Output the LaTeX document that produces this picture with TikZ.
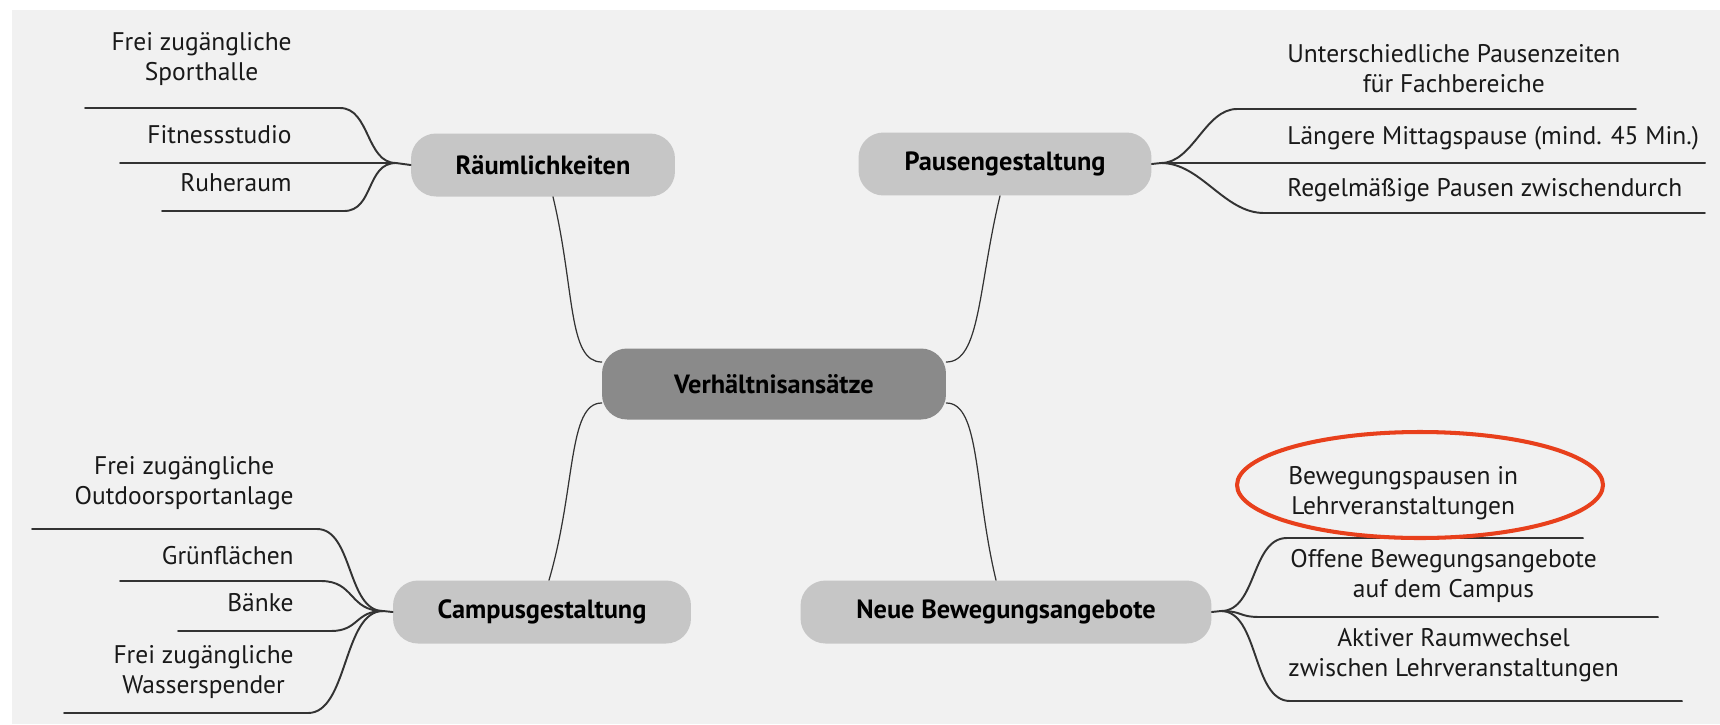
\documentclass[tikz,border=0pt]{standalone}
\usepackage{fontspec}
\setmainfont{PT Sans}
\usetikzlibrary{calc}

\definecolor{paper}{HTML}{F1F1F1}
\definecolor{topicgrey}{HTML}{C6C6C6}
\definecolor{coregrey}{HTML}{8A8A8A}
\definecolor{ringred}{HTML}{E8401C}
\def\leaffont{\fontsize{14.5}{17}\selectfont}

\begin{document}
\begin{tikzpicture}[x=0.02cm,y=-0.02cm,line cap=round]
    \tikzstyle{topic}=[rounded corners=0.5cm,fill=topicgrey,minimum height=1.26cm,font=\fontsize{15}{17}\selectfont\bfseries]
    \tikzstyle{core}=[topic,fill=coregrey,minimum height=1.42cm]
    \tikzstyle{leaf}=[align=center,inner sep=0pt,text=black!90,font=\leaffont]
    \tikzstyle{twig}=[draw=black!80,line width=1.1pt]
    \tikzstyle{link}=[draw=black!80,line width=0.7pt]

    \useasboundingbox (0,0) rectangle (1720,724);
    \fill[paper] (12,10) rectangle (1720,724);

    % main topics
    \node[core] (V) at (774,384) [minimum width=6.88cm] {Verhältnisansätze};
    \node[topic] (R) at (543,165) [minimum width=5.28cm] {Räumlichkeiten};
    \node[topic] (P) at (1005,164) [minimum width=5.86cm] {Pausengestaltung};
    \node[topic] (C) at (542,612) [minimum width=5.96cm] {Campusgestaltung};
    \node[topic] (N) at (1006,612) [minimum width=8.22cm] {Neue Bewegungsangebote};

    \draw[link] ($(V.west)+(0,-22)$) .. controls +(-34,0) and +(22,92) .. ($(R.south)+(10,0)$);
    \draw[link] ($(V.east)+(0,-22)$) .. controls +(34,0) and +(-22,92) .. ($(P.south)+(-5,0)$);
    \draw[link] ($(V.west)+(0,19)$) .. controls +(-34,0) and +(27,-92) .. ($(C.north)+(7,0)$);
    \draw[link] ($(V.east)+(0,19)$) .. controls +(34,0) and +(-22,-92) .. ($(N.north)+(-10,0)$);

    % Raeumlichkeiten
    \coordinate (rC) at (396,163);
    \coordinate (r1) at (85,108);  \coordinate (r1k) at (340,108);
    \coordinate (r2) at (120,163);
    \coordinate (r3) at (162,211); \coordinate (r3k) at (344,211);
    \draw[twig] (R.west) -- (rC);
    \draw[twig] (r1) -- (r1k) .. controls +(30,0) and +(-30,0) .. (rC);
    \draw[twig] (r2) -- (rC);
    \draw[twig] (r3) -- (r3k) .. controls +(30,0) and +(-30,0) .. (rC);
    \node[leaf,anchor=east] (rt1) at (292,59) {Frei zugängliche\\Sporthalle};
    \node[leaf,anchor=east] (rt2) at (292,135) {Fitnessstudio};
    \node[leaf,anchor=east] (rt3) at (292,183) {Ruheraum};

    % Pausengestaltung
    \coordinate (pC) at (1161,163);
    \coordinate (p1) at (1636,109); \coordinate (p1k) at (1237,109);
    \coordinate (p2) at (1705,163);
    \coordinate (p3) at (1705,213); \coordinate (p3k) at (1264,213);
    \draw[twig] (P.east) -- (pC);
    \draw[twig] (pC) .. controls +(32,0) and +(-32,0) .. (p1k) -- (p1);
    \draw[twig] (pC) -- (p2);
    \draw[twig] (pC) .. controls +(40,0) and +(-40,0) .. (p3k) -- (p3);
    \node[leaf,anchor=west] (pt1) at (1287,69) {Unterschiedliche Pausenzeiten\\für Fachbereiche};
    \node[leaf,anchor=west] (pt2) at (1287,138) {Längere Mittagspause (mind. 45 Min.)};
    \node[leaf,anchor=west] (pt3) at (1287,190) {Regelmäßige Pausen zwischendurch};

    % Campusgestaltung
    \coordinate (cC) at (383,611);
    \coordinate (c1) at (32,529);  \coordinate (c1k) at (317,529);
    \coordinate (c2) at (120,581); \coordinate (c2k) at (321,581);
    \coordinate (c3) at (178,631); \coordinate (c3k) at (331,631);
    \coordinate (c4) at (64,713);  \coordinate (c4k) at (308,713);
    \draw[twig] (C.west) -- (cC);
    \draw[twig] (c1) -- (c1k) .. controls +(36,0) and +(-36,0) .. (cC);
    \draw[twig] (c2) -- (c2k) .. controls +(34,0) and +(-34,0) .. (cC);
    \draw[twig] (c3) -- (c3k) .. controls +(28,0) and +(-28,0) .. (cC);
    \draw[twig] (c4) -- (c4k) .. controls +(40,0) and +(-40,0) .. (cC);
    \node[leaf,anchor=east] (ct1) at (294,483) {Frei zugängliche\\Outdoorsportanlage};
    \node[leaf,anchor=east] (ct2) at (294,556) {Grünflächen};
    \node[leaf,anchor=east] (ct3) at (294,603) {Bänke};
    \node[leaf,anchor=east] (ct4) at (294,672) {Frei zugängliche\\Wasserspender};

    % Neue Bewegungsangebote
    \coordinate (nC) at (1221,611);
    \coordinate (n1) at (1583,538); \coordinate (n1k) at (1287,538);
    \coordinate (n2) at (1658,617); \coordinate (n2k) at (1260,617);
    \coordinate (n3) at (1682,701); \coordinate (n3k) at (1290,701);
    \draw[twig] (N.east) -- (nC);
    \draw[twig] (nC) .. controls +(36,0) and +(-36,0) .. (n1k) -- (n1);
    \draw[twig] (nC) .. controls +(22,0) and +(-22,0) .. (n2k) -- (n2);
    \draw[twig] (nC) .. controls +(38,0) and +(-38,0) .. (n3k) -- (n3);
    \node[leaf,anchor=west] (nt1) at (1288,493) {Bewegungspausen in\\Lehrveranstaltungen};
    \node[leaf,anchor=west] (nt2) at (1290,576) {Offene Bewegungsangebote\\auf dem Campus};
    \node[leaf,anchor=west] (nt3) at (1288,655) {Aktiver Raumwechsel\\zwischen Lehrveranstaltungen};

    \draw[ringred,line width=2.3pt] (1420,485) ellipse [x radius=183,y radius=53];
\end{tikzpicture}
\end{document}
